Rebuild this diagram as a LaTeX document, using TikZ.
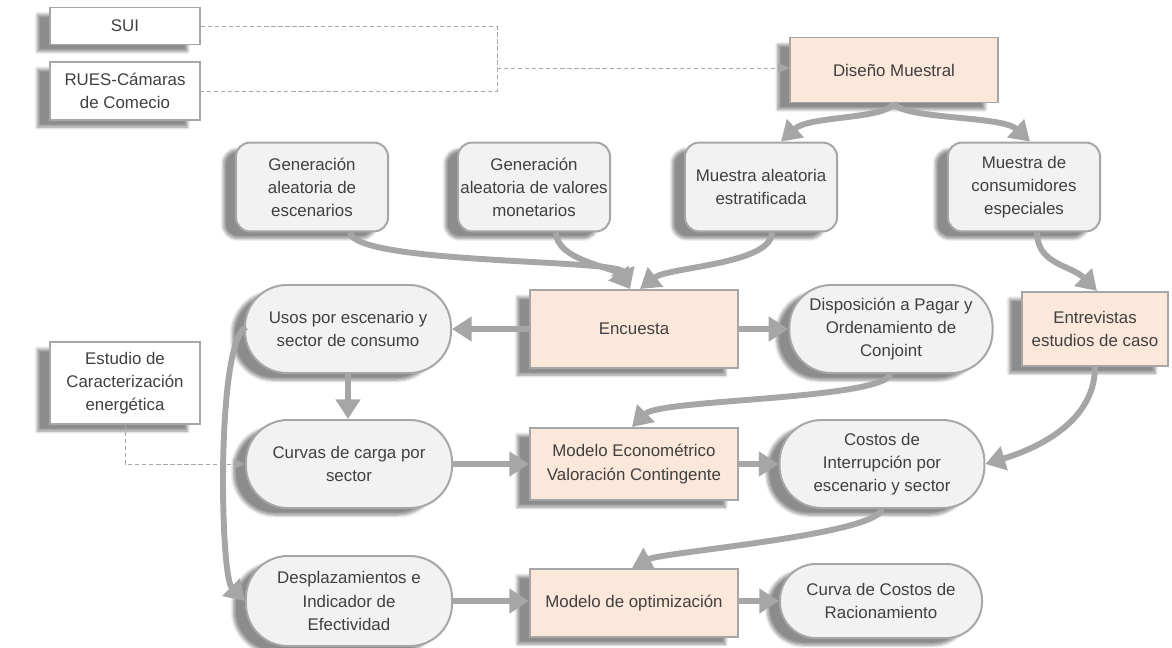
\documentclass[tikz,border=0pt]{standalone}
\usepackage{fontspec}
\setmainfont{Liberation Sans}
\usepackage{xcolor}
\usepackage{tikz}
\usetikzlibrary{arrows.meta}
\usetikzlibrary{shadows.blur}
\usetikzlibrary{calc}
\definecolor{edgegray}{HTML}{A6A6A6}
\definecolor{boxgray}{HTML}{F2F2F2}
\definecolor{boxorange}{HTML}{FCE8DA}
\definecolor{textgray}{HTML}{404040}
\tikzset{
  boxbase/.style={draw=edgegray,line width=1.4pt,align=center,text=textgray,
    font=\fontsize{12}{16.4}\selectfont,inner sep=1pt,
    blur shadow={shadow xshift=-9pt,shadow yshift=-5pt,shadow opacity=45,shadow blur steps=6}},
  srcbox/.style={boxbase,fill=white,minimum width=3.75cm},
  procbox/.style={boxbase,fill=boxorange,minimum width=5.2cm},
  roundbox/.style={boxbase,fill=boxgray,rounded corners=0.35cm,minimum width=3.8cm,minimum height=2.22cm},
  pillbox/.style={boxbase,fill=boxgray,rounded corners=1.05cm,minimum width=5.15cm,minimum height=2.2cm},
  flow/.style={draw=edgegray,line width=4.2pt,-{Triangle[length=14pt,width=17pt]}},
  feedline/.style={draw=edgegray,line width=0.7pt,dash pattern=on 3pt off 2pt},
  feed/.style={feedline,-{Triangle[length=8pt,width=7pt]}},
}

\begin{document}
\begin{tikzpicture}[x=0.025cm,y=-0.025cm]
    \useasboundingbox (0,0) rectangle (1172,647);

    %%% SOURCES %%%
    \node[srcbox,minimum height=0.925cm] (sui) at (125,26) {SUI};
    \node[srcbox,minimum height=1.45cm] (rues) at (125,91) {RUES-Cámaras\\de Comecio};
    \node[srcbox,minimum height=2.05cm] (estudio) at (125,383) {Estudio de\\Caracterización\\energética};
    \coordinate (join) at (497,68);

    %%% SAMPLING %%%
    \node[procbox,minimum width=5.175cm,minimum height=1.625cm] (dm) at (894,70) {Diseño Muestral};
    \node[roundbox] (gesc) at (312,187) {Generación\\aleatoria de\\escenarios};
    \node[roundbox] (gval) at (534,187) {Generación\\aleatoria de valores\\monetarios};
    \node[roundbox] (mal) at (761,187) {Muestra aleatoria\\estratificada};
    \node[roundbox] (mcon) at (1024,187) {Muestra de\\consumidores\\especiales};

    %%% SURVEY %%%
    \node[pillbox] (usos) at (348,329) {Usos por escenario y\\sector de consumo};
    \node[procbox,minimum height=1.95cm] (enc) at (634,329) {Encuesta};
    \node[pillbox,minimum width=5.08cm] (dpc) at (891,329) {Disposición a Pagar y\\Ordenamiento de\\Conjoint};
    \node[procbox,minimum width=3.65cm,minimum height=1.85cm] (entr) at (1095,329) {Entrevistas\\estudios de caso};

    %%% MODELS %%%
    \node[pillbox] (curvas) at (349,464) {Curvas de carga por\\sector};
    \node[procbox,minimum height=1.8cm] (meco) at (634,464) {Modelo Econométrico\\Valoración Contingente};
    \node[pillbox,minimum width=5.12cm] (costos) at (882,464) {Costos de\\Interrupción por\\escenario y sector};
    \node[pillbox,minimum height=2.25cm] (despl) at (349,601) {Desplazamientos e\\Indicador de\\Efectividad};
    \node[procbox,minimum height=1.7cm] (mopt) at (634,603) {Modelo de optimización};
    \node[pillbox,minimum width=5.05cm,minimum height=1.85cm,rounded corners=0.9cm] (curva) at (881,601) {Curva de Costos de\\Racionamiento};

    %%% DASHED FEEDS %%%
    \draw[feedline] (sui.east) -| (join) |- (rues.east);
    \draw[feed] (join) -- (join -| dm.west);
    \draw[feed] (estudio.south) |- (curvas.west);

    %%% FLOW ARROWS %%%
    \draw[flow] (dm.south) .. controls +(-10,16) and +(28,-26) .. ($(mal.north)+(20,0)$);
    \draw[flow] (dm.south) .. controls +(10,16) and +(-28,-26) .. ($(mcon.north)+(6,0)$);
    \draw[flow] ($(gesc.south)+(38,0)$) .. controls +(5,32) and +(-12,-30) .. ($(enc.north)+(-4,0)$);
    \draw[flow] ($(gval.south)+(22,0)$) .. controls +(0,28) and +(-16,-22) .. ($(enc.north)+(-4,0)$);
    \draw[flow] ($(mal.south)+(11,0)$) .. controls +(0,32) and +(28,-22) .. ($(enc.north)+(6,0)$);
    \draw[flow] ($(mcon.south)+(13,0)$) .. controls +(0,32) and +(-26,-26) .. ($(entr.north)+(2,0)$);
    \draw[flow] (enc.west) -- (usos.east);
    \draw[flow] (enc.east) -- (dpc.west);
    \draw[flow] (usos.south) -- (usos.south |- curvas.north);
    \draw[flow] ($(usos.west)+(2,-2)$) .. controls +(-30,15) and +(-25,-25) .. (despl.west);
    \draw[flow] (dpc.south) .. controls +(-12,26) and +(28,-28) .. ($(meco.north)+(-2,0)$);
    \draw[flow] (entr.south) .. controls +(0,60) and +(40,-12) .. (costos.east);
    \draw[flow] (curvas.east) -- (meco.west);
    \draw[flow] (meco.east) -- (costos.west);
    \draw[flow] (costos.south) .. controls +(-6,26) and +(30,-16) .. ($(mopt.north)+(-2,0)$);
    \draw[flow] (despl.east) -- (despl.east -| mopt.west);
    \draw[flow] (mopt.east |- curva.west) -- (curva.west);
\end{tikzpicture}
\end{document}
